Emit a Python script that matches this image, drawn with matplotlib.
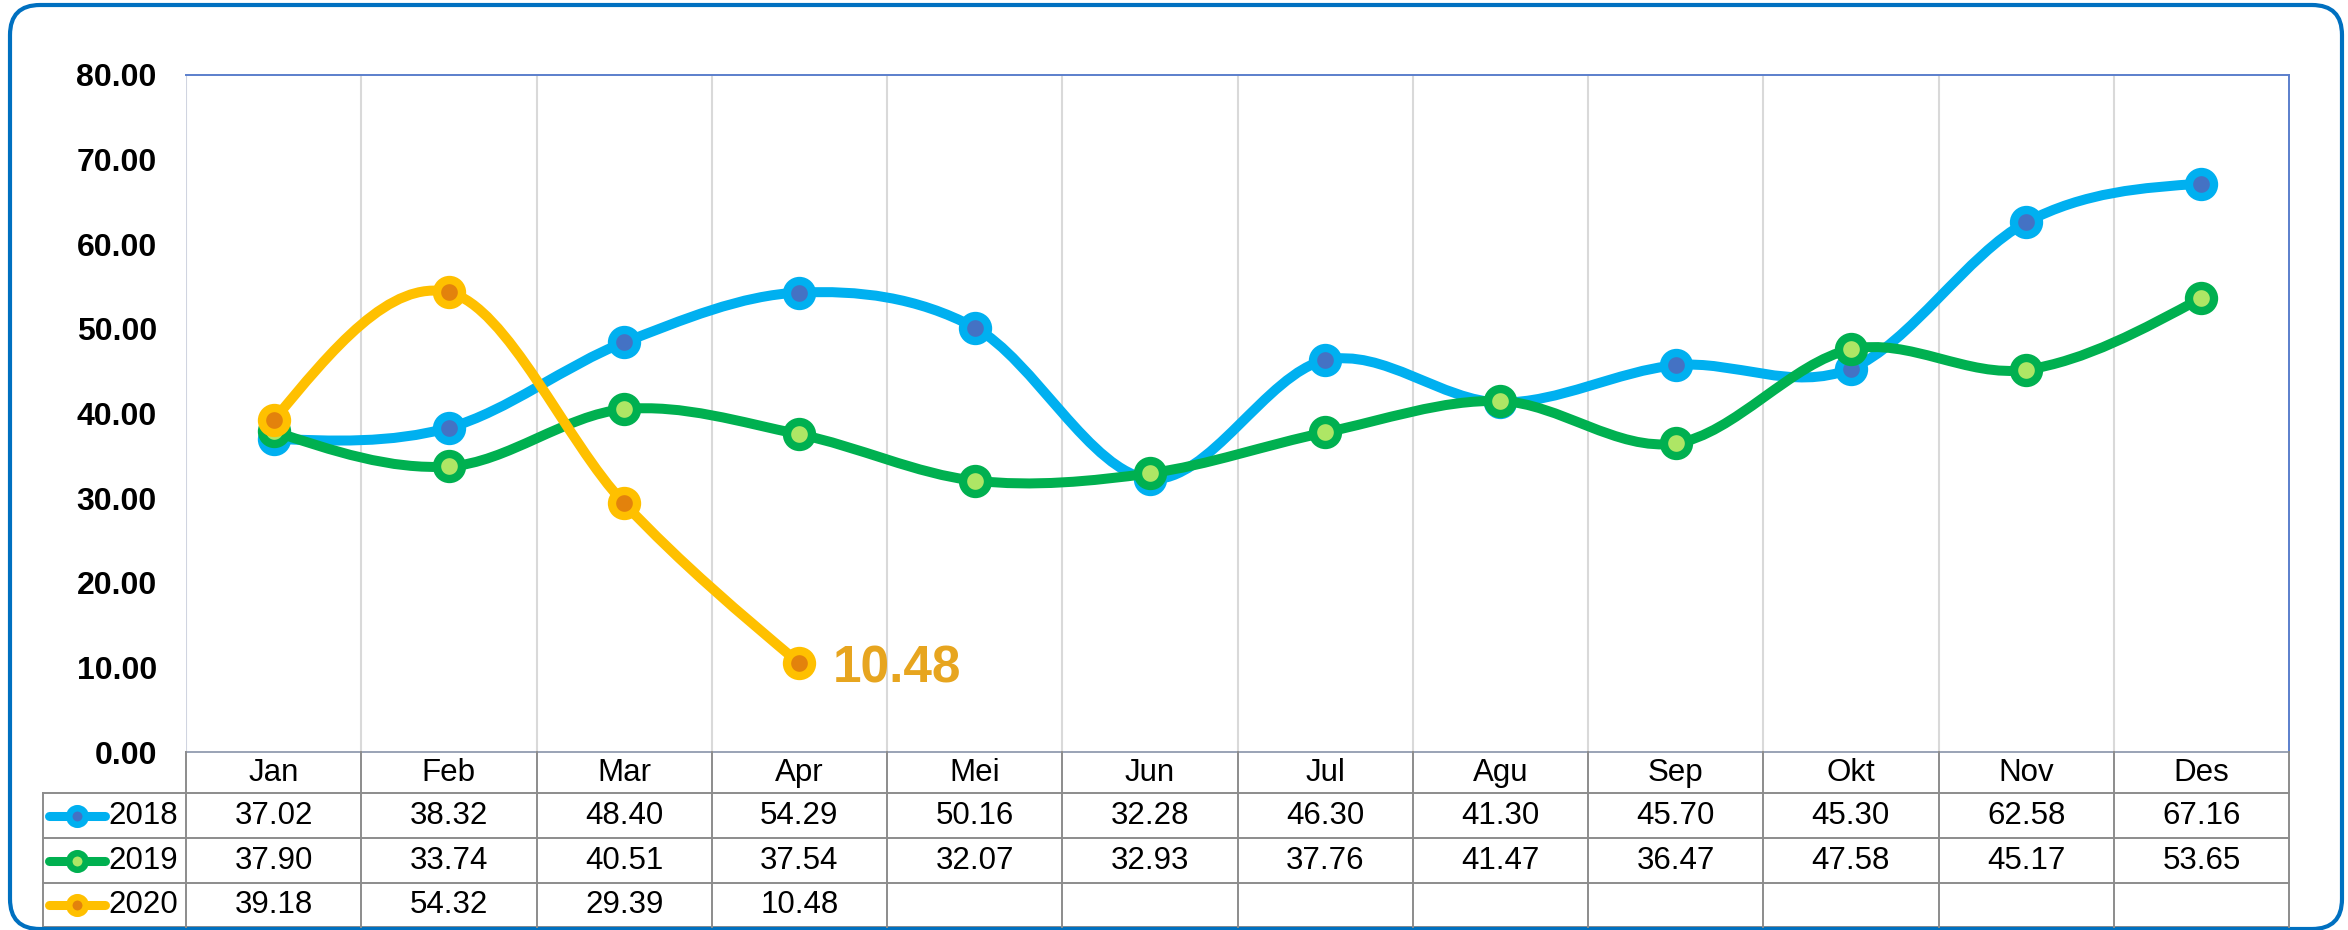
import numpy as np
import matplotlib
matplotlib.use('Agg')
import matplotlib.pyplot as plt
from matplotlib.path import Path
from matplotlib.patches import PathPatch, FancyBboxPatch
from matplotlib.lines import Line2D
import matplotlib.transforms as mtransforms

plt.rcParams['font.family'] = ['Liberation Sans', 'DejaVu Sans']

# ---------------- data ----------------
months = ["Jan", "Feb", "Mar", "Apr", "Mei", "Jun", "Jul", "Agu", "Sep", "Okt", "Nov", "Des"]
years = ["2018", "2019", "2020"]
v2018 = [37.02, 38.32, 48.40, 54.29, 50.16, 32.28, 46.30, 41.30, 45.70, 45.30, 62.58, 67.16]
v2019 = [37.90, 33.74, 40.51, 37.54, 32.07, 32.93, 37.76, 41.47, 36.47, 47.58, 45.17, 53.65]
v2020 = [39.18, 54.32, 29.39, 10.48]
y_ticks = [0, 10, 20, 30, 40, 50, 60, 70, 80]
label_value = v2020[-1]

series = [v2018, v2019, v2020]
line_colors = ["#00B0F0", "#00B050", "#FFC000"]
fill_colors = ["#4472C4", "#AEE665", "#E3820C"]

# ---------------- layout ----------------
W, H = 2348, 930
L, R, T, B = 186, 2289, 75, 752
fig = plt.figure(figsize=(W / 100, H / 100), dpi=100)
fig.patch.set_facecolor("white")

bg = fig.add_axes([0, 0, 1, 1], zorder=0)
bg.set_xlim(0, W)
bg.set_ylim(H, 0)
bg.axis("off")

ax = fig.add_axes([L / W, 1 - B / H, (R - L) / W, (B - T) / H], zorder=1)
ax.set_facecolor("none")
n = len(months)
ax.set_xlim(0, n)
ax.set_ylim(0, 80)
for s in ax.spines.values():
    s.set_visible(False)
ax.set_xticks([])
ax.set_yticks(y_ticks)
ax.set_yticklabels([f"{t:.2f}" for t in y_ticks], fontsize=23, fontweight="bold")
ax.tick_params(axis="y", length=0, pad=21)

# vertical gridlines at category boundaries
for k in range(1, n):
    ax.axvline(k, color="#D9D9D9", lw=1.5, zorder=0)
ax.axvline(0, color="#D0D4E0", lw=1.5, zorder=0)
# plot-area border top and right
ax.plot([0, n], [80, 80], color="#5B7FCC", lw=1.4, clip_on=False, zorder=0.5)
ax.plot([n, n], [0, 80], color="#5B7FCC", lw=1.4, clip_on=False, zorder=0.5)


def smooth_path(xs, ys):
    pts = np.column_stack([xs, ys]).astype(float)
    m = len(pts)
    tang = np.zeros_like(pts)
    for i in range(1, m - 1):
        tang[i] = (pts[i + 1] - pts[i - 1]) / 2.0
    if m > 2:
        tang[0] = (3 * (pts[1] - pts[0]) - tang[1]) / 2.0
        tang[-1] = (3 * (pts[-1] - pts[-2]) - tang[-2]) / 2.0
    else:
        tang[0] = tang[-1] = pts[-1] - pts[0]
    verts = [pts[0]]
    codes = [Path.MOVETO]
    for i in range(m - 1):
        c1 = pts[i] + tang[i] / 3.0
        c2 = pts[i + 1] - tang[i + 1] / 3.0
        verts += [c1, c2, pts[i + 1]]
        codes += [Path.CURVE4] * 3
    return Path(verts, codes)


for z, (vals, lc, fc) in enumerate(zip(series, line_colors, fill_colors)):
    xs = np.arange(len(vals)) + 0.5
    patch = PathPatch(smooth_path(xs, vals), facecolor="none", edgecolor=lc,
                      lw=7.2, capstyle="round", joinstyle="round", zorder=2 + z)
    ax.add_patch(patch)
    ax.plot(xs, vals, linestyle="none", marker="o", ms=18.0, mew=6.0,
            markeredgecolor=lc, markerfacecolor=fc, zorder=2 + z, clip_on=False)

# data label on last 2020 point
ax.annotate(f"{label_value:.2f}", xy=(len(v2020) - 0.5, label_value),
            xytext=(24, -13.5), textcoords="offset points",
            ha="left", va="baseline", fontsize=37, fontweight="bold",
            color="#E7A51F", zorder=10)

# ---------------- data table ----------------
trans = mtransforms.blended_transform_factory(ax.transData, bg.transData)
row_edges = [B, 793, 838, 883, 927]
tcol = "#8C8C8C"
tlw = 1.4

bg.plot([L, R], [B, B], color="#9AA3B5", lw=tlw, zorder=1)
for yy in row_edges[1:]:
    bg.plot([43, R], [yy, yy], color=tcol, lw=tlw, zorder=1)
for k in range(0, n + 1):
    ax.plot([k, k], [B, row_edges[-1]], transform=trans, color=tcol, lw=tlw,
            clip_on=False, zorder=1)
bg.plot([43, 43], [row_edges[1], row_edges[-1]], color=tcol, lw=tlw, zorder=1)

hy = (row_edges[0] + row_edges[1]) / 2
for i, mname in enumerate(months):
    ax.text(i + 0.5, hy, mname, transform=trans, ha="center", va="center",
            fontsize=22.5, clip_on=False)

for r, (yr, vals, lc, fc) in enumerate(zip(years, series, line_colors, fill_colors)):
    cy = (row_edges[r + 1] + row_edges[r + 2]) / 2
    for i, v in enumerate(vals):
        ax.text(i + 0.5, cy, f"{v:.2f}", transform=trans, ha="center", va="center",
                fontsize=22.5, clip_on=False)
    bg.add_line(Line2D([49, 105], [cy, cy], color=lc, lw=6.5,
                       solid_capstyle="round", zorder=3))
    bg.add_line(Line2D([77], [cy], linestyle="none", marker="o", ms=11.9, mew=4.7,
                       markeredgecolor=lc, markerfacecolor=fc, zorder=4))
    bg.text(108, cy, yr, ha="left", va="center", fontsize=22.5, zorder=4)

# outer rounded border
border = FancyBboxPatch((10, 5), 2332, 924,
                        boxstyle="round,pad=0,rounding_size=30",
                        facecolor="none", edgecolor="#0070C0", lw=3.0, zorder=5)
bg.add_patch(border)

fig.savefig("out.png", dpi=100, facecolor="white")
